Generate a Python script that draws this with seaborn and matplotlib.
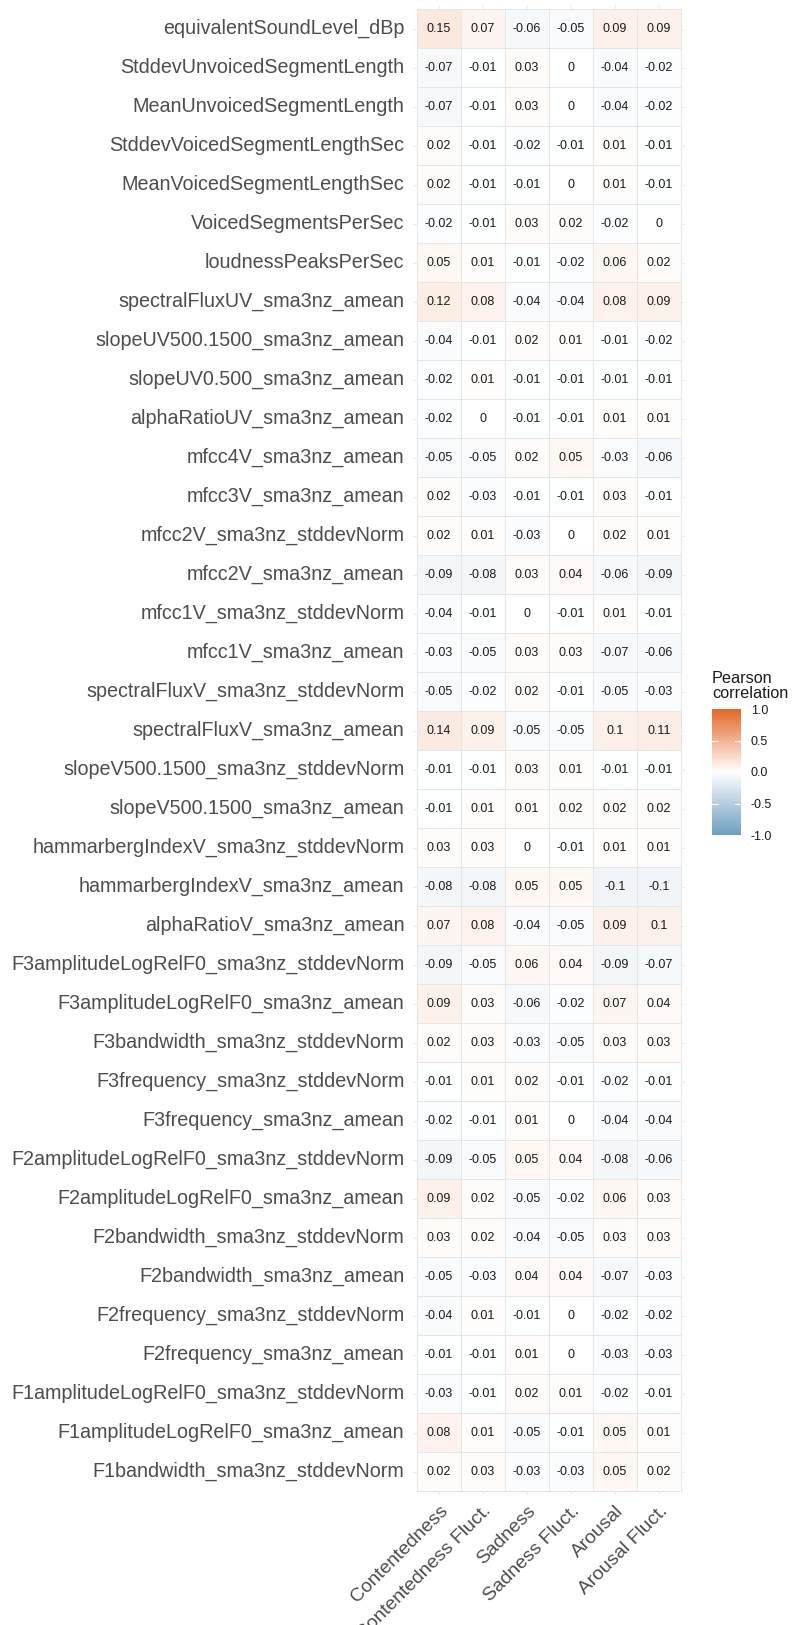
import numpy as np
import pandas as pd
import matplotlib
matplotlib.use("Agg")
import matplotlib.pyplot as plt
from matplotlib.colors import LinearSegmentedColormap
import seaborn as sns

features = [
    "equivalentSoundLevel_dBp",
    "StddevUnvoicedSegmentLength",
    "MeanUnvoicedSegmentLength",
    "StddevVoicedSegmentLengthSec",
    "MeanVoicedSegmentLengthSec",
    "VoicedSegmentsPerSec",
    "loudnessPeaksPerSec",
    "spectralFluxUV_sma3nz_amean",
    "slopeUV500.1500_sma3nz_amean",
    "slopeUV0.500_sma3nz_amean",
    "alphaRatioUV_sma3nz_amean",
    "mfcc4V_sma3nz_amean",
    "mfcc3V_sma3nz_amean",
    "mfcc2V_sma3nz_stddevNorm",
    "mfcc2V_sma3nz_amean",
    "mfcc1V_sma3nz_stddevNorm",
    "mfcc1V_sma3nz_amean",
    "spectralFluxV_sma3nz_stddevNorm",
    "spectralFluxV_sma3nz_amean",
    "slopeV500.1500_sma3nz_stddevNorm",
    "slopeV500.1500_sma3nz_amean",
    "hammarbergIndexV_sma3nz_stddevNorm",
    "hammarbergIndexV_sma3nz_amean",
    "alphaRatioV_sma3nz_amean",
    "F3amplitudeLogRelF0_sma3nz_stddevNorm",
    "F3amplitudeLogRelF0_sma3nz_amean",
    "F3bandwidth_sma3nz_stddevNorm",
    "F3frequency_sma3nz_stddevNorm",
    "F3frequency_sma3nz_amean",
    "F2amplitudeLogRelF0_sma3nz_stddevNorm",
    "F2amplitudeLogRelF0_sma3nz_amean",
    "F2bandwidth_sma3nz_stddevNorm",
    "F2bandwidth_sma3nz_amean",
    "F2frequency_sma3nz_stddevNorm",
    "F2frequency_sma3nz_amean",
    "F1amplitudeLogRelF0_sma3nz_stddevNorm",
    "F1amplitudeLogRelF0_sma3nz_amean",
    "F1bandwidth_sma3nz_stddevNorm",
]

outcomes = ["Contentedness", "Contentedness Fluct.", "Sadness",
            "Sadness Fluct.", "Arousal", "Arousal Fluct."]

contentedness = [0.15, -0.07, -0.07, 0.02, 0.02, -0.02, 0.05, 0.12, -0.04, -0.02,
                 -0.02, -0.05, 0.02, 0.02, -0.09, -0.04, -0.03, -0.05, 0.14, -0.01,
                 -0.01, 0.03, -0.08, 0.07, -0.09, 0.09, 0.02, -0.01, -0.02, -0.09,
                 0.09, 0.03, -0.05, -0.04, -0.01, -0.03, 0.08, 0.02]
contentedness_fluct = [0.07, -0.01, -0.01, -0.01, -0.01, -0.01, 0.01, 0.08, -0.01, 0.01,
                       0, -0.05, -0.03, 0.01, -0.08, -0.01, -0.05, -0.02, 0.09, -0.01,
                       0.01, 0.03, -0.08, 0.08, -0.05, 0.03, 0.03, 0.01, -0.01, -0.05,
                       0.02, 0.02, -0.03, 0.01, -0.01, -0.01, 0.01, 0.03]
sadness = [-0.06, 0.03, 0.03, -0.02, -0.01, 0.03, -0.01, -0.04, 0.02, -0.01,
           -0.01, 0.02, -0.01, -0.03, 0.03, 0, 0.03, 0.02, -0.05, 0.03,
           0.01, 0, 0.05, -0.04, 0.06, -0.06, -0.03, 0.02, 0.01, 0.05,
           -0.05, -0.04, 0.04, -0.01, 0.01, 0.02, -0.05, -0.03]
sadness_fluct = [-0.05, 0, 0, -0.01, 0, 0.02, -0.02, -0.04, 0.01, -0.01,
                 -0.01, 0.05, -0.01, 0, 0.04, -0.01, 0.03, -0.01, -0.05, 0.01,
                 0.02, -0.01, 0.05, -0.05, 0.04, -0.02, -0.05, -0.01, 0, 0.04,
                 -0.02, -0.05, 0.04, 0, 0, 0.01, -0.01, -0.03]
arousal = [0.09, -0.04, -0.04, 0.01, 0.01, -0.02, 0.06, 0.08, -0.01, -0.01,
           0.01, -0.03, 0.03, 0.02, -0.06, 0.01, -0.07, -0.05, 0.1, -0.01,
           0.02, 0.01, -0.1, 0.09, -0.09, 0.07, 0.03, -0.02, -0.04, -0.08,
           0.06, 0.03, -0.07, -0.02, -0.03, -0.02, 0.05, 0.05]
arousal_fluct = [0.09, -0.02, -0.02, -0.01, -0.01, 0, 0.02, 0.09, -0.02, -0.01,
                 0.01, -0.06, -0.01, 0.01, -0.09, -0.01, -0.06, -0.03, 0.11, -0.01,
                 0.02, 0.01, -0.1, 0.1, -0.07, 0.04, 0.03, -0.01, -0.04, -0.06,
                 0.03, 0.03, -0.03, -0.02, -0.03, -0.01, 0.01, 0.02]

corr = pd.DataFrame(
    np.column_stack([contentedness, contentedness_fluct, sadness,
                     sadness_fluct, arousal, arousal_fluct]),
    index=features, columns=outcomes,
)
labels = corr.apply(lambda col: col.map(lambda v: f"{v:g}")).values

sns.set_theme(style="white")
plt.rcParams["font.family"] = ["Liberation Sans", "DejaVu Sans"]

cmap = LinearSegmentedColormap.from_list(
    "pearson", ["#6D9EC1", "#FFFFFF", "#E46726"], N=256)

W, H = 798, 1625
fig = plt.figure(figsize=(W / 100, H / 100), dpi=100)

n_rows, n_cols = corr.shape
row_h, col_w = 39.0, 44.0
pad = 0.1
ax_left_px = 417 - pad * col_w
ax_top_px = 9.3 - pad * row_h
ax_w_px = (n_cols + 2 * pad) * col_w
ax_h_px = (n_rows + 2 * pad) * row_h
ax = fig.add_axes([ax_left_px / W, 1 - (ax_top_px + ax_h_px) / H,
                   ax_w_px / W, ax_h_px / H])
cax = fig.add_axes([712 / W, 1 - 835 / H, 29 / W, 126 / H])

# panel grid behind the tiles
ax.set_axisbelow(True)
for i in range(n_rows):
    ax.axhline(i + 0.5, color="#EBEBEB", lw=0.8, zorder=0)
for j in range(n_cols):
    ax.axvline(j + 0.5, color="#EBEBEB", lw=0.8, zorder=0)

sns.heatmap(corr, ax=ax, cmap=cmap, vmin=-1, vmax=1, center=0,
            annot=labels, fmt="", annot_kws={"size": 9, "color": "#1a1a1a"},
            linewidths=0.6, linecolor="#E6E6E6",
            cbar=True, cbar_ax=cax, square=False)

ax.set_xlim(-pad, n_cols + pad)
ax.set_ylim(n_rows + pad, -pad)
ax.set_xlabel("")
ax.set_ylabel("")
for s in ax.spines.values():
    s.set_visible(False)
ax.tick_params(axis="both", length=0)
ax.tick_params(axis="y", pad=6)
ax.set_yticklabels(features, fontsize=14.2, color="#4D4D4D", rotation=0)
ax.set_xticklabels(outcomes, fontsize=13.9, color="#4D4D4D", rotation=45,
                   ha="right", va="top", rotation_mode="anchor")
ax.tick_params(axis="x", pad=5)

# colour bar
cbar = ax.collections[0].colorbar
cbar.outline.set_visible(False)
cbar.set_ticks([-1, -0.5, 0, 0.5, 1])
cbar.set_ticklabels(["-1.0", "-0.5", "0.0", "0.5", "1.0"])
cax.tick_params(length=0, labelsize=9, pad=7, colors="#1a1a1a")
for v in [-0.5, 0, 0.5]:
    cax.plot([0, 0.2], [v, v], color="white", lw=0.8, transform=cax.get_yaxis_transform())
    cax.plot([0.8, 1], [v, v], color="white", lw=0.8, transform=cax.get_yaxis_transform())
fig.text(712 / W, 1 - 686 / H, "Pearson\ncorrelation", fontsize=11.7,
         ha="left", va="center", linespacing=1.0, color="#1a1a1a")

fig.savefig("out.png", dpi=100, facecolor="white")
